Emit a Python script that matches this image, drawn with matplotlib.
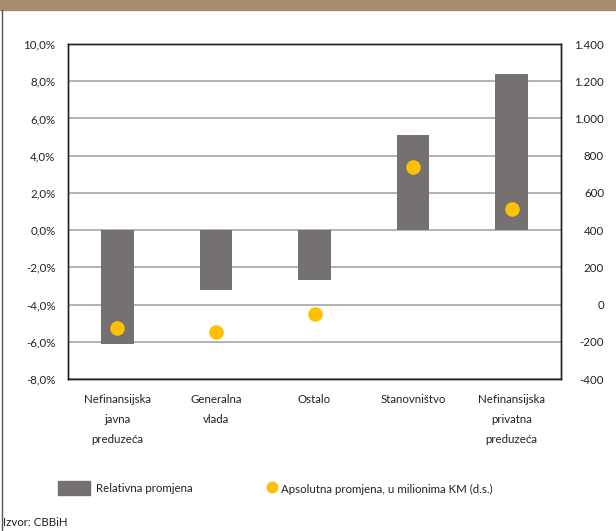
import numpy as np
import matplotlib.pyplot as plt
from matplotlib.patches import Rectangle
from matplotlib.lines import Line2D

plt.rcParams['font.family'] = ['Lato', 'DejaVu Sans']

categories = ["Nefinansijska\njavna\npreduzeća", "Generalna\nvlada", "Ostalo",
              "Stanovništvo", "Nefinansijska\nprivatna\npreduzeća"]
rel_change = [-6.1, -3.2, -2.7, 5.1, 8.4]        # %
abs_change = [-124, -146, -52, 741, 513]         # mil. KM (d.s.)
left_ticks = np.arange(-8, 10.1, 2)
right_ticks = np.arange(-400, 1401, 200)

bar_color = "#767171"
dot_color = "#FFC000"
grid_color = "#A6A6A6"
fs = 8.3

fig = plt.figure(figsize=(6.16, 5.31), dpi=100)
W, H = 616, 531
ax = fig.add_axes([68 / W, 1 - 379 / H, (561 - 68) / W, (379 - 44) / H])
ax2 = ax.twinx()

x = np.arange(len(categories))
ax.bar(x, rel_change, width=0.33, color=bar_color, zorder=3)
ax.set_ylim(-8, 10)
ax.set_yticks(left_ticks)
ax.set_yticklabels([f"{v:.1f}%".replace(".", ",") for v in left_ticks])
ax.yaxis.grid(True, color=grid_color, linewidth=1.2, zorder=0)
ax.set_axisbelow(True)
ax.set_xlim(-0.5, len(categories) - 0.5)
ax.set_xticks(x)
ax.set_xticklabels(categories, linespacing=2.0, va="top")
ax.tick_params(axis="x", length=0, pad=11, labelsize=fs, colors="#222222")
ax.tick_params(axis="y", length=0, pad=9, labelsize=fs, colors="#222222")

ax2.scatter(x, abs_change, s=110, color=dot_color, zorder=5, linewidths=0)
ax2.set_ylim(-400, 1400)
ax2.set_yticks(right_ticks)
ax2.set_yticklabels([f"{v:,}".replace(",", ".") for v in right_ticks])
ax2.tick_params(axis="y", length=0, pad=31, labelsize=fs, colors="#222222")
for lab in ax2.get_yticklabels():
    lab.set_horizontalalignment("right")

for a in (ax, ax2):
    for s in a.spines.values():
        s.set_color("#222222")
        s.set_linewidth(1.0)

# top band and left border
fig.patches.append(Rectangle((0, 1 - 10 / H), 1, 10 / H, transform=fig.transFigure,
                             color="#A58B6F", zorder=0))
fig.add_artist(Line2D([2.5 / W, 2.5 / W], [0, 1 - 10 / H], transform=fig.transFigure,
                      color="#555555", linewidth=1.0))

# legend
fig.patches.append(Rectangle((58 / W, 1 - 495 / H), 32 / W, 14 / H,
                             transform=fig.transFigure, color=bar_color))
fig.text(96 / W, 1 - 489 / H, "Relativna promjena", fontsize=fs, va="center",
         color="#222222")
fig.add_artist(Line2D([272 / W], [1 - 487 / H], transform=fig.transFigure, marker="o",
                      markersize=7.5, color=dot_color, linestyle="none"))
fig.text(281 / W, 1 - 489 / H, "Apsolutna promjena, u milionima KM (d.s.)", fontsize=fs,
         va="center", color="#222222")

fig.text(3 / W, 1 - 523 / H, "Izvor: CBBiH", fontsize=fs, va="center", color="#222222")

fig.savefig("out.png", dpi=100)
